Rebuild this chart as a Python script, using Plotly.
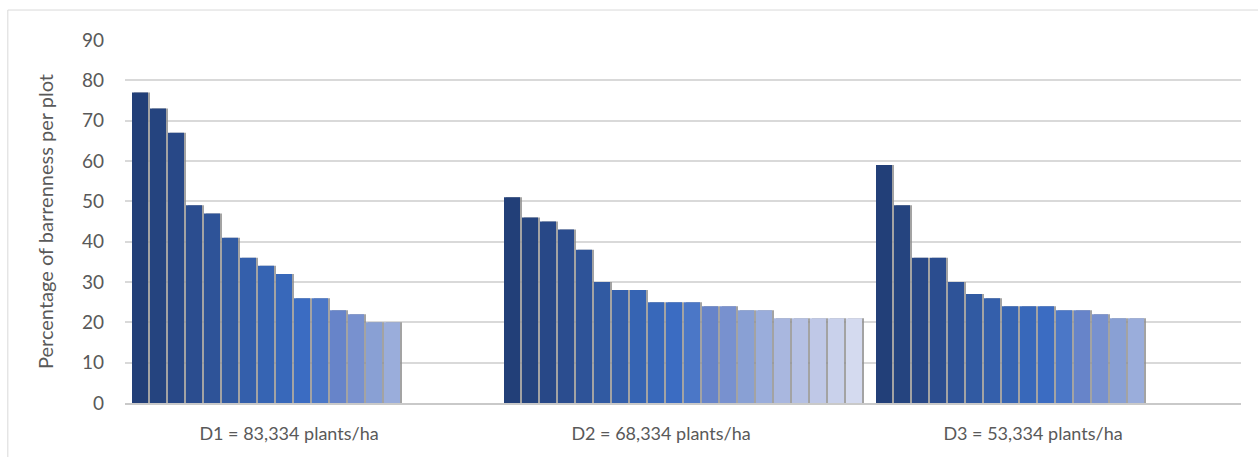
import plotly.graph_objects as go

# Plant densities (x categories) and barrenness per plot for each density
categories = ["D1 = 83,334 plants/ha", "D2 = 68,334 plants/ha", "D3 = 53,334 plants/ha"]
d1_barren = [77, 73, 67, 49, 47, 41, 36, 34, 32, 26, 26, 23, 22, 20, 20]
d2_barren = [51, 46, 45, 43, 38, 30, 28, 28, 25, 25, 25, 24, 24, 23, 23, 21, 21, 21, 21, 21]
d3_barren = [59, 49, 36, 36, 30, 27, 26, 24, 24, 24, 23, 23, 22, 21, 21]
y_ticks = [0, 10, 20, 30, 40, 50, 60, 70, 80, 90]

# Monochromatic blue palette, dark to light, one colour per plot series
series_colors = [
    "#223f78", "#25447f", "#284887", "#2b4d8f", "#2e5398",
    "#315aa2", "#345fab", "#3664b3", "#3868ba", "#3b6cc2",
    "#4b77c7", "#6784c9", "#7891cf", "#89a0d4", "#9aaddb",
    "#a9b7df", "#b5c0e3", "#bfc8e7", "#c9d1eb", "#d4daef",
]

groups = [d1_barren, d2_barren, d3_barren]
n_series = max(len(g) for g in groups)

# Geometry of one category slot, in pixels of the plot area
cat_px = 372.0
slot_px = 18.0
bar_px = 16.0
lead_px = 7.0
shadow_shift_px = 2.0

fig = go.Figure()

def series_values(i):
    return [g[i] if i < len(g) else None for g in groups]

x_pos = list(range(len(categories)))

# Soft grey drop shadow behind each bar
for i in range(n_series):
    off = (lead_px + slot_px * i + shadow_shift_px - cat_px / 2) / cat_px
    fig.add_trace(go.Bar(
        x=x_pos, y=series_values(i),
        offset=off, width=bar_px / cat_px,
        marker=dict(color="rgba(140,140,140,0.8)", line=dict(width=0)),
        hoverinfo="skip", showlegend=False,
    ))

# Coloured bars
for i in range(n_series):
    off = (lead_px + slot_px * i - cat_px / 2) / cat_px
    fig.add_trace(go.Bar(
        x=x_pos, y=series_values(i),
        offset=off, width=bar_px / cat_px,
        marker=dict(color=series_colors[i], line=dict(width=0)),
        name=f"Plot {i + 1}", showlegend=False,
    ))

text_color = "#595959"
font_family = "Lato, 'Open Sans', sans-serif"

fig.update_layout(
    width=1258, height=457,
    margin=dict(l=125, r=17, t=40, b=54),
    paper_bgcolor="white", plot_bgcolor="white",
    barmode="overlay",
    font=dict(family=font_family, color=text_color, size=18),
    xaxis=dict(
        range=[-0.5, len(categories) - 0.5],
        tickvals=x_pos, ticktext=categories,
        tickfont=dict(size=18, color=text_color),
        ticks="", showgrid=False, zeroline=False,
        showline=True, linecolor="#c9c9c9", linewidth=2,
        ticklabelstandoff=13, ticklabelshift=-22,
    ),
    yaxis=dict(
        range=[0, 90], tickvals=y_ticks,
        tickfont=dict(size=19, color=text_color),
        ticks="", showgrid=True, gridcolor="#d9d9d9", gridwidth=1.6,
        zeroline=False, showline=False,
        ticklabelstandoff=20,
        title=dict(text="Percentage of barrenness per plot",
                   font=dict(size=20, color=text_color), standoff=22),
    ),
    shapes=[dict(
        type="rect", xref="paper", yref="paper",
        x0=-0.105, x1=1.03, y0=-0.3, y1=1.0826,
        line=dict(color="#d9d9d9", width=1), fillcolor="rgba(0,0,0,0)",
        layer="below",
    )],
)

fig.write_html("out.html")
